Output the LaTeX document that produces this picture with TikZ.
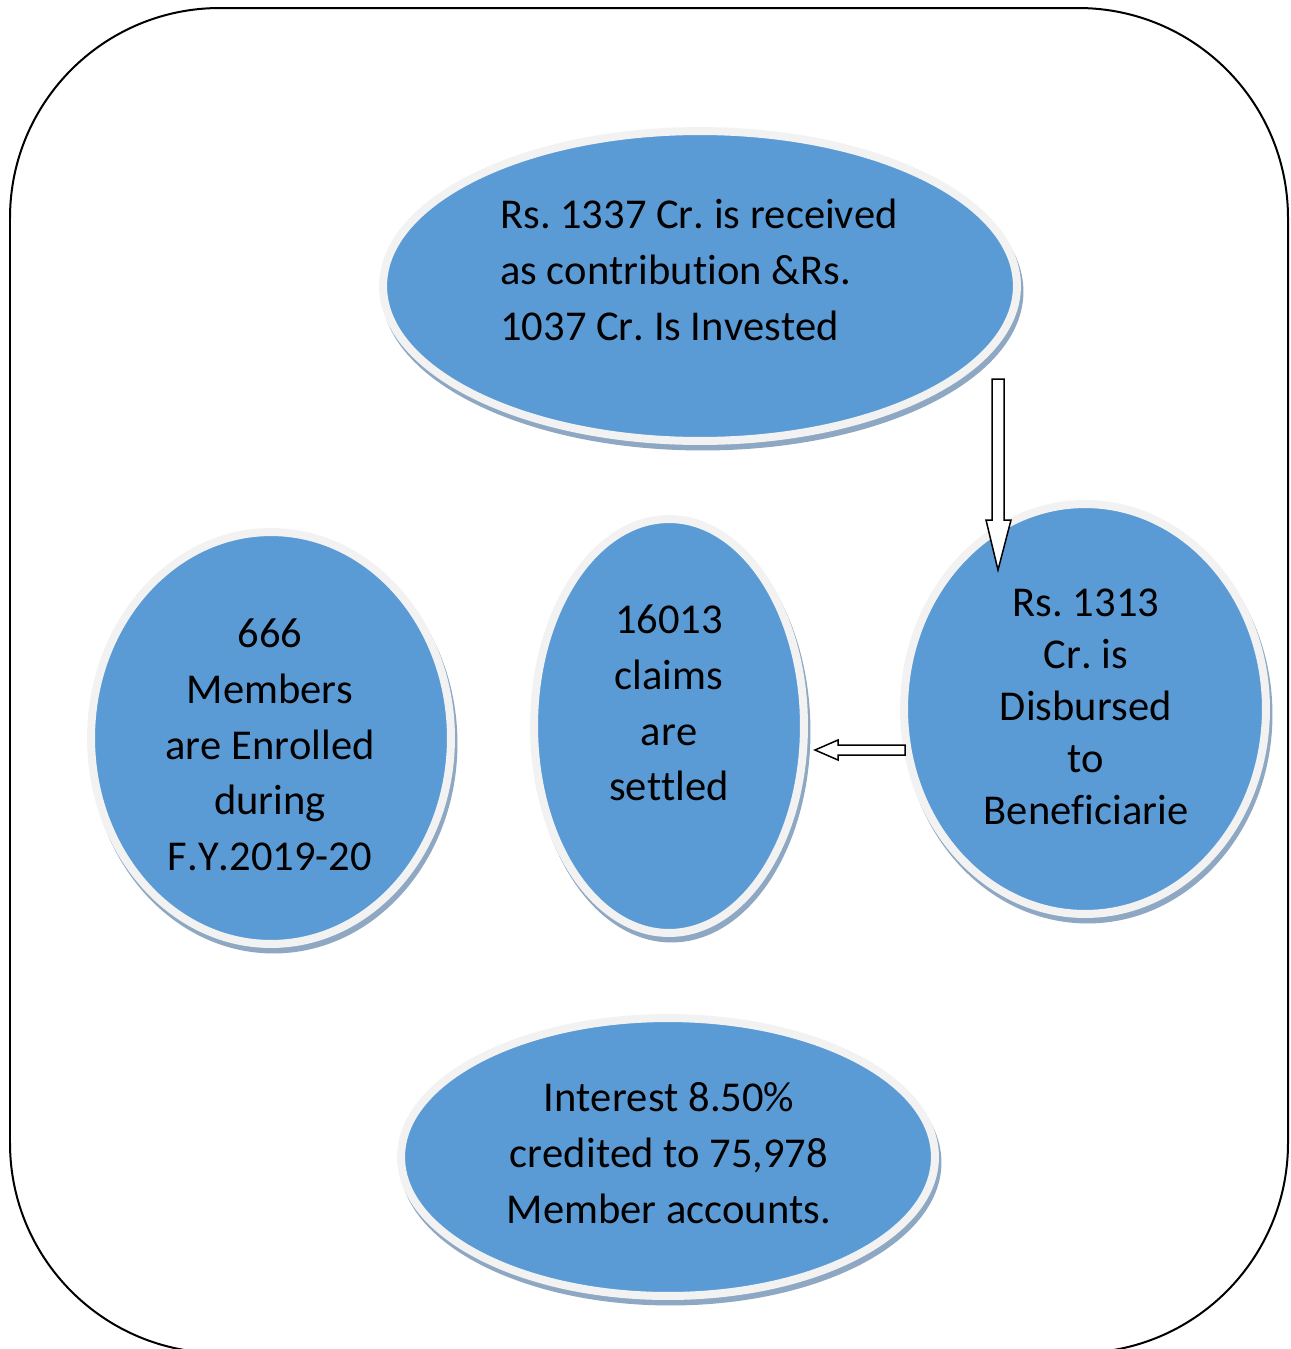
\documentclass[tikz,border=0pt]{standalone}
\usepackage{fontspec}
\setmainfont{Carlito}[Ligatures=NoCommon, Kerning=Off]
\usetikzlibrary{shapes,shadows,calc}

\definecolor{bubbleblue}{HTML}{5B9BD5}
\definecolor{bubblerim}{HTML}{F2F2F2}
\definecolor{bubbleshade}{HTML}{8EA8C3}

\begin{document}
\frenchspacing
\begin{tikzpicture}[x=0.02cm, y=-0.02cm,
    bubble/.style={ellipse, fill=bubbleblue, draw=bubblerim, line width=0.16cm, inner sep=0pt, outer sep=0pt,
        drop shadow={shadow xshift=0.05cm, shadow yshift=-0.11cm, fill=bubbleshade, draw=bubbleshade, line width=0.16cm, opacity=1}},
    txt/.style={font=\fontsize{24.2}{31.75}\selectfont, inner sep=0pt},
    hollow/.style={draw=black, fill=white, line width=0.03cm, line join=miter}]
        \useasboundingbox (0,0) rectangle (1291,1349);
        \draw [line width=0.04cm, rounded corners=4.2cm] (10,8) rectangle (1288,1353);
        % the five bubbles
        \node [bubble, minimum width=12.68cm, minimum height=6.2cm] (contrib) at (700,286) {};
        \node [bubble, minimum width=7.2cm, minimum height=8.24cm] (enrol) at (271,738) {};
        \node [bubble, minimum width=5.4cm, minimum height=8.28cm] (claims) at (669,726) {};
        \node [bubble, minimum width=7.24cm, minimum height=8.2cm] (disburse) at (1085,709) {};
        \node [bubble, minimum width=10.68cm, minimum height=5.56cm] (interest) at (668,1157) {};
        % texts
        \node [txt, align=left, anchor=west] (contribtxt) at (500,270) {Rs. 1337 Cr. is received\\as contribution \&Rs.\\1037 Cr. Is Invested};
        \node [txt, align=center] (enroltxt) at (270,745) {666\\Members\\are Enrolled\\during\\F.Y.2019-20};
        \node [txt, align=center] (claimstxt) at (669,703) {16013\\claims\\are\\settled};
        \node [txt, align=center, font=\fontsize{24.2}{29.5}\selectfont] (disbursetxt) at (1086,707) {Rs. 1313\\Cr. is\\Disbursed\\to\\Beneficiarie};
        \node [txt, align=center] (interesttxt) at (669,1153) {Interest 8.50\%\\credited to 75,978\\Member accounts.};
        % block arrows
        \coordinate (down0) at (998,379);
        \coordinate (down1) at (998,570);
        \coordinate (left0) at (905,750);
        \coordinate (left1) at (815,750);
        \draw [hollow] ($(down0)+(-6,0)$) -- ($(down1)+(-6,-50)$) -- ($(down1)+(-12,-50)$) -- (down1)
            -- ($(down1)+(13,-50)$) -- ($(down1)+(6,-50)$) -- ($(down0)+(6,0)$) -- cycle;
        \draw [hollow] ($(left0)+(0,-5)$) -- ($(left1)+(23,-5)$) -- ($(left1)+(23,-10)$) -- (left1)
            -- ($(left1)+(23,10)$) -- ($(left1)+(23,5)$) -- ($(left0)+(0,5)$) -- cycle;
\end{tikzpicture}
\end{document}
